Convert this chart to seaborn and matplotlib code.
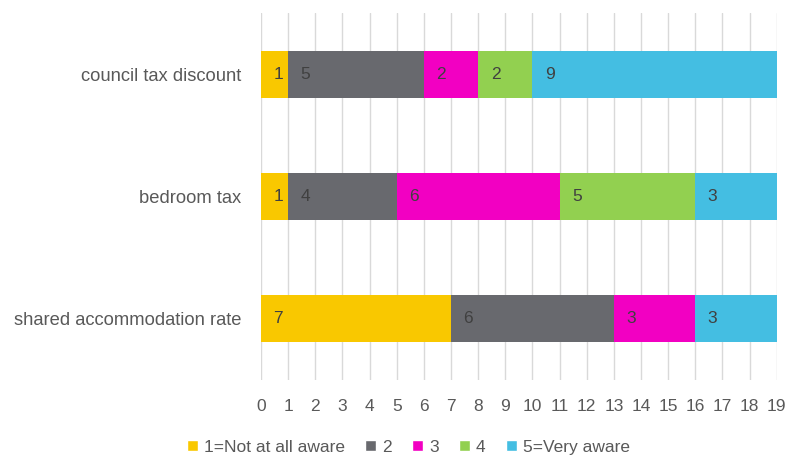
import matplotlib.pyplot as plt
import seaborn as sns
import numpy as np
import pandas as pd
from matplotlib.patches import Patch

questions = ["council tax discount", "bedroom tax", "shared accommodation rate"]
levels = ["1=Not at all aware", "2", "3", "4", "5=Very aware"]
level_1 = [1, 1, 7]
level_2 = [5, 4, 6]
level_3 = [2, 6, 3]
level_4 = [2, 5, 0]
level_5 = [9, 3, 3]
colors = ["#F9C800", "#68696E", "#F200C2", "#92D050", "#44BEE2"]

sns.set_theme(style="white")
plt.rcParams["font.family"] = ["Liberation Sans", "DejaVu Sans"]

values = np.array([level_1, level_2, level_3, level_4, level_5], dtype=float)
cum = values.cumsum(axis=0)

fig, ax = plt.subplots(figsize=(7.87, 4.59), dpi=100)
fig.subplots_adjust(left=0.3316, right=0.987, top=1 - 13 / 459, bottom=1 - 380 / 459)

# stacked bars: draw cumulative totals from the widest down
for i in range(len(levels) - 1, -1, -1):
    df = pd.DataFrame({"question": questions, "total": cum[i]})
    sns.barplot(data=df, x="total", y="question", orient="h", color=colors[i],
                width=0.385, saturation=1, linewidth=0, ax=ax, zorder=2)

# value labels at the start of each segment
for i in range(len(levels)):
    for j, q in enumerate(questions):
        v = values[i, j]
        if v <= 0:
            continue
        start = cum[i, j] - v
        ax.annotate(f"{int(v)}", xy=(start, j), xytext=(9, 0), textcoords="offset points",
                    ha="left", va="center", fontsize=12.5, color="#404040", zorder=3)

ax.set_xlim(0, 19)
ax.set_ylim(2.5, -0.5)
ax.set_xticks(range(0, 20))
ax.set_xlabel("")
ax.set_ylabel("")
ax.grid(axis="x", color="#D9D9D9", linewidth=1, zorder=0)
ax.set_axisbelow(True)
for s in ax.spines.values():
    s.set_visible(False)
ax.tick_params(axis="x", labelsize=12.5, colors="#595959", length=0, pad=14)
ax.tick_params(axis="y", labelsize=13.2, colors="#595959", length=0, pad=14)

handles = [Patch(facecolor=c, label=l) for c, l in zip(colors, levels)]
fig.legend(handles=handles, loc="lower center", bbox_to_anchor=(0.519, -0.025), ncol=5,
           frameon=False, fontsize=12.5, handlelength=0.6, handleheight=0.6,
           handletextpad=0.35, columnspacing=1.2, labelcolor="#595959")

fig.savefig("out.png", dpi=100)
